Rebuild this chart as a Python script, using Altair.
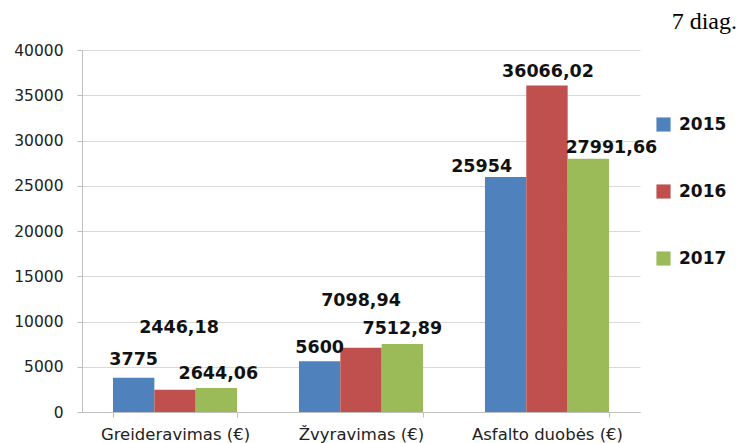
import altair as alt
import pandas as pd

categories = ["Greideravimas (€)", "Žvyravimas (€)", "Asfalto duobės (€)"]
years = ["2015", "2016", "2017"]
values = {
    "2015": [3775, 5600, 25954],
    "2016": [2446.18, 7098.94, 36066.02],
    "2017": [2644.06, 7512.89, 27991.66],
}
labels = {
    "2015": ["3775", "5600", "25954"],
    "2016": ["2446,18", "7098,94", "36066,02"],
    "2017": ["2644,06", "7512,89", "27991,66"],
}
colors = ["#4F81BD", "#C0504D", "#9BBB59"]

# label nudges in pixels (dx, dy) relative to bar top centre
nudges = {
    ("2015", 0): (0, -18), ("2016", 0): (4, -62), ("2017", 0): (2, -14),
    ("2015", 1): (0, -13), ("2016", 1): (0, -47), ("2017", 1): (0, -15),
    ("2015", 2): (-24, -10), ("2016", 2): (1, -14), ("2017", 2): (23, -11),
}

rows = []
for y in years:
    for i, c in enumerate(categories):
        rows.append({"cat": c, "year": y, "value": values[y][i], "label": labels[y][i], "ci": i})
df = pd.DataFrame(rows)

x_enc = alt.X("cat:N", sort=categories,
              scale=alt.Scale(paddingInner=0.333, paddingOuter=0.1667),
              axis=alt.Axis(title=None, labelAngle=0, labelFont="DejaVu Sans", labelFontSize=16.5,
                            labelColor="#222222", labelPadding=9, tickBand="extent", tickSize=5,
                            tickColor="#BFBFBF", domainColor="#BFBFBF", grid=False))
xo = alt.XOffset("year:N", sort=years)
y_enc = alt.Y("value:Q", scale=alt.Scale(domain=[0, 40000]),
              axis=alt.Axis(title=None, values=list(range(0, 40001, 5000)), format="d",
                            labelFont="DejaVu Sans",
                            labelFontSize=15.5, labelColor="#222222", labelPadding=14, tickSize=5,
                            tickColor="#BFBFBF", domainColor="#BFBFBF", gridColor="#D9D9D9"))

bars = alt.Chart(df).mark_bar().encode(
    x=x_enc, xOffset=xo, y=y_enc,
    color=alt.Color("year:N", sort=years, scale=alt.Scale(domain=years, range=colors),
                    legend=alt.Legend(title=None, orient="none", legendX=573, legendY=66,
                                      symbolType="square", symbolSize=200, symbolStrokeWidth=0,
                                      labelFont="DejaVu Sans", labelFontSize=17, labelFontWeight="bold",
                                      labelColor="#111111", rowPadding=49, labelOffset=7)),
)

layers = [bars]
for (yr, ci), (dx, dy) in nudges.items():
    t = alt.Chart(df).transform_filter(
        (alt.datum.year == yr) & (alt.datum.ci == ci)
    ).mark_text(font="DejaVu Sans", fontSize=17.5, fontWeight="bold", color="#111111",
                dx=dx, dy=dy, baseline="middle").encode(
        x=alt.X("cat:N", sort=categories), xOffset=xo, y="value:Q", text="label:N")
    layers.append(t)

chart = alt.layer(*layers).properties(
    width=558, height=362,
    title=alt.TitleParams("7 diag.", anchor="end", frame="group", font="Liberation Serif",
                          fontSize=24, fontWeight="normal", color="#000000", dx=97,
                          offset=9),
    autosize=alt.AutoSizeParams(type="none"),
    padding={"left": 74, "top": 42, "right": 98, "bottom": 35},
).configure_view(stroke=None).configure_axis(domainWidth=1)

chart.save("out.html", embed_options={"renderer": "svg", "actions": False})
